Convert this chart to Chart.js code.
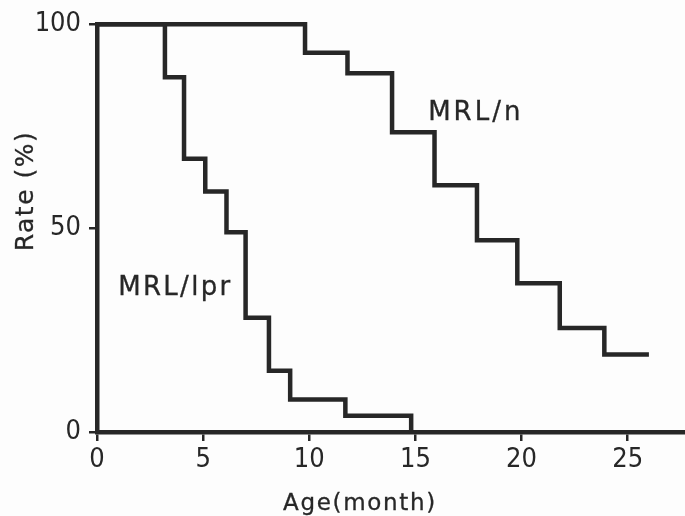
<!DOCTYPE html>
<html>
<head>
<meta charset="utf-8">
<script src="https://cdn.jsdelivr.net/npm/chart.js@4.4.0/dist/chart.umd.min.js"></script>
<style>
  html, body { margin: 0; padding: 0; background: #fdfdfd; }
  #wrap { width: 685px; height: 516px; }
</style>
</head>
<body>
<div id="wrap"><canvas id="myChart"></canvas></div>
<script>
// survival steps: age (month) where the curve drops, and rate (%) after the drop
const lprAge = [0, 3.2, 4.1, 5.1, 6.1, 7.0, 8.1, 9.1, 11.7, 14.8];
const lprRate = [100, 87, 67, 59, 49, 28, 15, 8, 4, 0];

const nAge = [0, 9.8, 11.8, 13.9, 15.9, 17.9, 19.8, 21.8, 23.9, 26.0];
const nRate = [100, 93, 88, 73.5, 60.5, 47, 36.5, 25.5, 19, 19];

const xTicks = [0, 5, 10, 15, 20, 25];
const yTicks = [0, 50, 100];

const ink = "#272727";
const tickFont = {
  family: "'Liberation Sans Narrow', 'DejaVu Sans Condensed', 'Liberation Sans', sans-serif",
  size: 27,
};

function toPoints(xs, ys) {
  return xs.map((v, i) => ({ x: v, y: ys[i] }));
}

function inkText(ctx, s, x, y) {
  ctx.fillText(s, x, y);
  ctx.strokeText(s, x, y);
}

const textPlugin = {
  id: "texts",
  afterDraw(chart) {
    const { ctx } = chart;
    const x = chart.scales.x;
    const y = chart.scales.y;
    ctx.save();
    ctx.fillStyle = ink;
    ctx.strokeStyle = ink;
    ctx.lineWidth = 0.3;
    ctx.textBaseline = "alphabetic";
    ctx.font = "26px 'DejaVu Sans'";
    ctx.letterSpacing = "3px";
    inkText(ctx, "MRL/n", x.getPixelForValue(15.6), y.getPixelForValue(76.6));
    ctx.letterSpacing = "2.3px";
    inkText(ctx, "MRL/lpr", x.getPixelForValue(1.0), y.getPixelForValue(33.6));

    ctx.font = "23px 'DejaVu Sans'";
    ctx.letterSpacing = "1.7px";
    ctx.textAlign = "center";
    inkText(ctx, "Age(month)", 360, 510);

    ctx.font = "25px 'DejaVu Sans'";
    ctx.letterSpacing = "1.5px";
    ctx.translate(33, 191);
    ctx.rotate(-Math.PI / 2);
    inkText(ctx, "Rate (%)", 0, 0);
    ctx.restore();
  },
};

const ctx = document.getElementById("myChart");

new Chart(ctx, {
  type: "line",
  data: {
    datasets: [
      {
        label: "MRL/lpr",
        data: toPoints(lprAge, lprRate),
        stepped: true,
      },
      {
        label: "MRL/n",
        data: toPoints(nAge, nRate),
        stepped: true,
      },
    ],
  },
  options: {
    responsive: true,
    maintainAspectRatio: false,
    animation: false,
    layout: { padding: { top: 21, right: 0, bottom: 0, left: 0 } },
    elements: {
      line: { borderColor: ink, borderWidth: 4.5, fill: false },
      point: { radius: 0 },
    },
    datasets: { line: { clip: false } },
    plugins: {
      legend: { display: false },
      tooltip: { enabled: false },
    },
    scales: {
      x: {
        type: "linear",
        min: 0,
        max: 27.7,
        afterBuildTicks: (scale) => {
          scale.ticks = xTicks.map((v) => ({ value: v }));
        },
        afterFit: (scale) => {
          scale.height = 84;
        },
        grid: {
          drawOnChartArea: false,
          drawTicks: true,
          tickLength: 9,
          color: ink,
          lineWidth: 2.5,
        },
        border: { display: true, color: ink, width: 4.5 },
        ticks: {
          color: ink,
          font: tickFont,
          padding: 3,
          maxRotation: 0,
          autoSkip: false,
        },
      },
      y: {
        type: "linear",
        min: 0,
        max: 100,
        afterBuildTicks: (scale) => {
          scale.ticks = yTicks.map((v) => ({ value: v }));
        },
        afterFit: (scale) => {
          scale.width = 97;
        },
        grid: {
          drawOnChartArea: false,
          drawTicks: true,
          tickLength: 8,
          color: ink,
          lineWidth: 2.5,
        },
        border: { display: true, color: ink, width: 4.5 },
        ticks: {
          color: ink,
          font: tickFont,
          padding: 8,
        },
      },
    },
  },
  plugins: [textPlugin],
});
</script>
</body>
</html>
